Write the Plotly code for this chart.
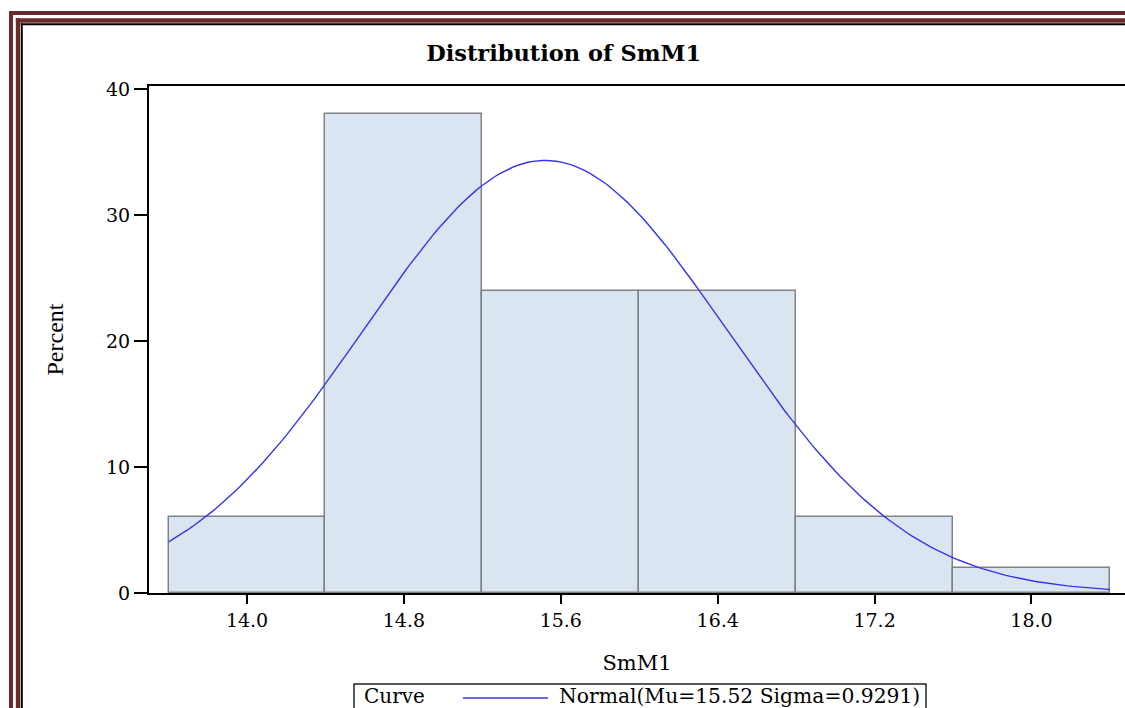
import math
import plotly.graph_objects as go

# ---------------- data ----------------
bin_midpoints = [14.0, 14.8, 15.6, 16.4, 17.2, 18.0]
bin_width = 0.8
percent = [6, 38, 24, 24, 6, 2]
mu = 15.52
sigma = 0.9291
x_tick_vals = [14.0, 14.8, 15.6, 16.4, 17.2, 18.0]
y_tick_vals = [0, 10, 20, 30, 40]

# fitted normal curve (as stated in the legend), scaled to percent per bin
curve_lo = bin_midpoints[0] - bin_width / 2
curve_hi = bin_midpoints[-1] + bin_width / 2
n_pts = 200
curve_x = [curve_lo + (curve_hi - curve_lo) * i / (n_pts - 1) for i in range(n_pts)]
curve_y = [100 * bin_width / (sigma * math.sqrt(2 * math.pi)) *
           math.exp(-0.5 * ((v - mu) / sigma) ** 2) for v in curve_x]

# ---------------- layout geometry (pixels) ----------------
W, H = 1125, 708
L, R, T, B = 149, 0, 86, 115
PW, PH = W - L - R, H - T - B


def px(x):
    return (x - L) / PW


def py(y):
    return (H - B - y) / PH


SERIF = "DejaVu Serif"
TIMES = "Liberation Serif"

fig = go.Figure()
fig.add_trace(go.Bar(
    x=bin_midpoints, y=percent, width=bin_width,
    marker=dict(color="#dbe5f1", line=dict(color="#7f8387", width=1.5)),
    showlegend=False, hoverinfo="x+y"))
fig.add_trace(go.Scatter(
    x=curve_x, y=curve_y, mode="lines",
    line=dict(color="#3535e6", width=1.4), showlegend=False))

shapes = []
red = "#6b2a2a"
# decorative page border (outer red, inner red, black)
for xv, yv, w, c in [(11, 13, 4, red), (18, 20.5, 4.3, red), (21.8, 24.3, 2, "black")]:
    shapes.append(dict(type="line", xref="paper", yref="paper",
                       x0=px(xv), x1=px(xv), y0=py(yv - w / 2), y1=py(H + 20),
                       line=dict(color=c, width=w)))
    shapes.append(dict(type="line", xref="paper", yref="paper",
                       x0=px(xv - w / 2), x1=px(W + 20), y0=py(yv), y1=py(yv),
                       line=dict(color=c, width=w)))
# legend box and sample line
shapes.append(dict(type="rect", xref="paper", yref="paper",
                   x0=px(354), x1=px(926), y0=py(684), y1=py(H + 30),
                   line=dict(color="#222", width=1.5), fillcolor="white"))
shapes.append(dict(type="line", xref="paper", yref="paper",
                   x0=px(463), x1=px(548), y0=py(698), y1=py(698),
                   line=dict(color="#3535e6", width=1.4)))

annotations = [
    dict(text="Curve", xref="paper", yref="paper", x=px(362), y=py(682),
         xanchor="left", yanchor="top", showarrow=False,
         font=dict(family=SERIF, size=20, color="black")),
    dict(text=f"Normal(Mu={mu:.2f} Sigma={sigma:.4f})", xref="paper", yref="paper",
         x=px(557), y=py(682), xanchor="left", yanchor="top", showarrow=False,
         font=dict(family=SERIF, size=20.3, color="black")),
]

fig.update_layout(
    width=W, height=H, autosize=False,
    margin=dict(l=L, r=R, t=T, b=B, pad=0),
    paper_bgcolor="white", plot_bgcolor="white",
    title=dict(text="<b>Distribution of SmM1</b>", x=px(638), xanchor="center",
               y=1 - 53 / H, yanchor="middle", yref="container",
               font=dict(family=SERIF, size=22.5, color="black")),
    bargap=0,
    shapes=shapes,
    annotations=annotations,
    xaxis=dict(range=[13.5, 18.477], tickvals=x_tick_vals, tickformat=".1f",
               ticks="outside", ticklen=9, tickwidth=1.5, tickcolor="black",
               showline=True, linecolor="black", linewidth=2, mirror=True,
               showgrid=False, zeroline=False,
               tickfont=dict(family=SERIF, size=19, color="black"),
               title=dict(text="SmM1", standoff=26,
                          font=dict(family=SERIF, size=21, color="black"))),
    yaxis=dict(range=[0, 40.26], tickvals=y_tick_vals,
               ticks="outside", ticklen=13, tickwidth=1.5, tickcolor="black",
               showline=True, linecolor="black", linewidth=2,
               showgrid=False, zeroline=False,
               tickfont=dict(family=SERIF, size=19, color="black"),
               title=dict(text="Percent", standoff=36,
                          font=dict(family=TIMES, size=24, color="black"))),
)

fig.write_html("out.html", config={"displayModeBar": False},
               post_script="document.body.style.margin='0';document.body.style.overflow='hidden';")
